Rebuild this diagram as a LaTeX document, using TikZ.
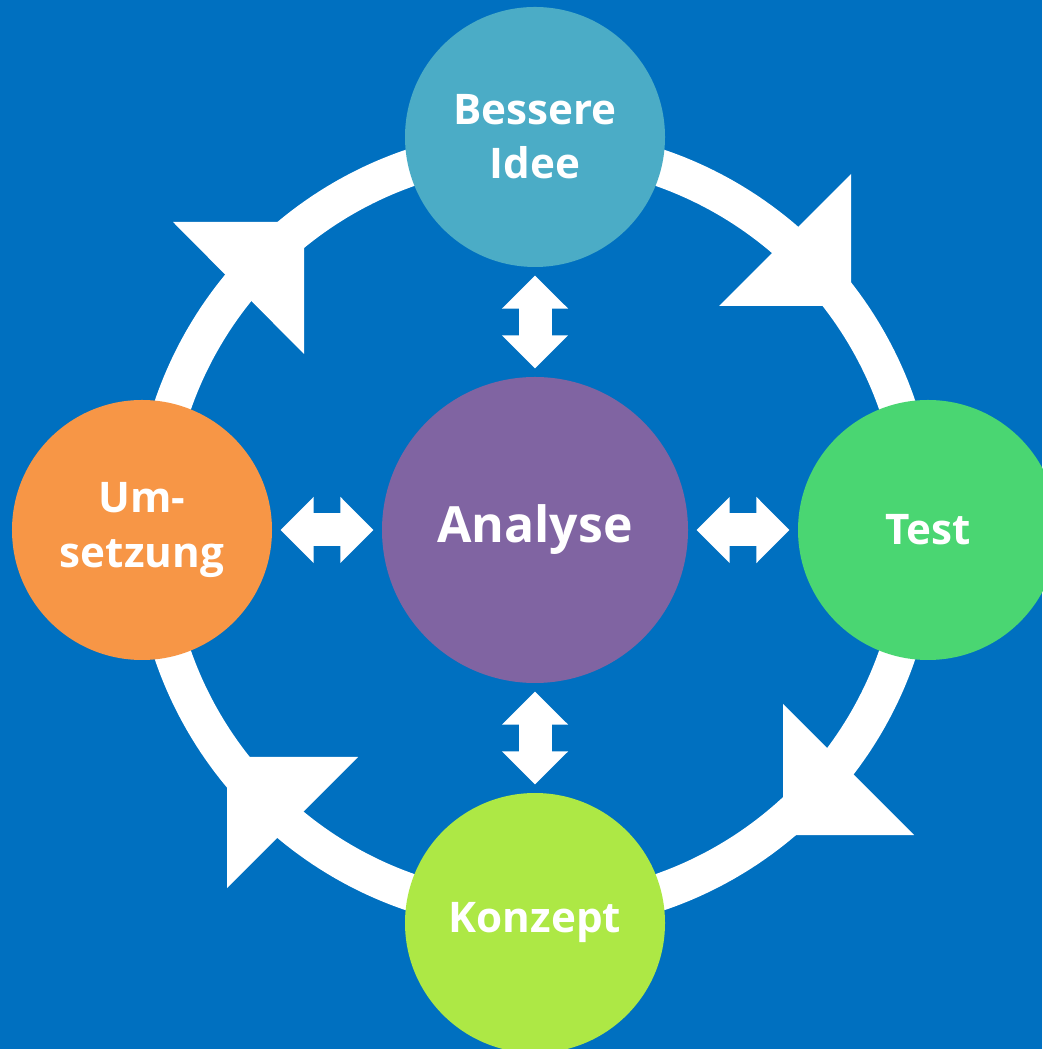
\documentclass[tikz,border=0pt]{standalone}
\usepackage{fontspec}
\setmainfont{Open Sans}
\usepackage{tikz}
\usetikzlibrary{arrows.meta}
\usepackage{xcolor}
\definecolor{cycblue}{HTML}{0070C0}
\definecolor{cycteal}{HTML}{4BACC6}
\definecolor{cycgreen}{HTML}{4AD672}
\definecolor{cyclime}{HTML}{ADE845}
\definecolor{cycorange}{HTML}{F79646}
\definecolor{cycpurple}{HTML}{8064A2}

\begin{document}
\begin{tikzpicture}[
  phase/.style={circle, minimum size=2.6cm, inner sep=0pt, text=white, font=\fontsize{12}{15.4}\selectfont\bfseries, align=center},
  hub/.style={circle, minimum size=3.06cm, inner sep=0pt, text=white, font=\fontsize{14.2}{17}\selectfont\bfseries},
  dbl/.style={white, line width=0.33cm,
    {Triangle[length=0.33cm, width=0.66cm, line width=0.6pt]}-{Triangle[length=0.33cm, width=0.66cm, line width=0.6pt]},
    shorten <=0.08cm, shorten >=0.08cm},
]
% Background
\path[use as bounding box, fill=cycblue] (-5.35,-5.19) rectangle (5.07,5.30);

% Ring and its arrowheads (clockwise)
\draw[white, line width=0.37cm] (0,0) circle (3.83);
\fill[white] (3.16,2.24) -- (3.16,3.56) -- (1.84,2.24) -- cycle;
\fill[white] (2.48,-3.05) -- (2.48,-1.74) -- (3.79,-3.05) -- cycle;
\fill[white] (-3.08,-2.27) -- (-1.77,-2.27) -- (-3.08,-3.58) -- cycle;
\fill[white] (-2.31,3.08) -- (-3.62,3.08) -- (-2.31,1.76) -- cycle;

% Phases
\node[hub, fill=cycpurple] (ana) at (0,0) {Analyse};
\node[phase, fill=cycteal]   (idee) at (0,3.93)  {Bessere\\Idee};
\node[phase, fill=cycgreen]  (test) at (3.93,0)  {Test};
\node[phase, fill=cyclime]   (konz) at (0,-3.93) {Konzept};
\node[phase, fill=cycorange] (ums)  at (-3.93,0) {Um-\\setzung};

% Links to the hub
\draw[dbl] (idee) -- (ana);
\draw[dbl] (ana) -- (test);
\draw[dbl] (ana) -- (konz);
\draw[dbl] (ums) -- (ana);

\end{tikzpicture}
\end{document}
